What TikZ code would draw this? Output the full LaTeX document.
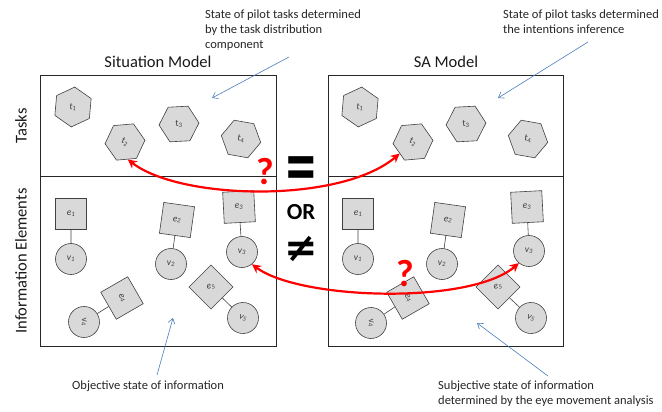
\documentclass[tikz,border=0pt]{standalone}
\usepackage{fontspec}
\setmainfont{Carlito}
\newfontfamily\symfont{DejaVu Sans}
\usetikzlibrary{shapes.geometric}
\usetikzlibrary{arrows.meta}
\definecolor{shapegray}{HTML}{D9D9D9}
\definecolor{edgegray}{HTML}{404040}
\definecolor{pointblue}{HTML}{4A7EBB}
\definecolor{flowred}{HTML}{FF0000}
\tikzset{>=latex}

\begin{document}
\begin{tikzpicture}[x=1pt, y=-1pt,
    task/.style={regular polygon, regular polygon sides=6, minimum size=40pt, inner sep=0pt,
      draw=edgegray, fill=shapegray, semithick, text=edgegray, font=\fontsize{9.5}{10}\selectfont},
    elem/.style={regular polygon, regular polygon sides=4, minimum size=44pt, inner sep=0pt,
      draw=edgegray, fill=shapegray, semithick, text=edgegray, font=\fontsize{9.5}{10}\selectfont\itshape},
    val/.style={circle, minimum size=31pt, inner sep=0pt,
      draw=edgegray, fill=shapegray, semithick, text=edgegray, font=\fontsize{9.5}{10}\selectfont\itshape},
    link/.style={draw=edgegray, semithick},
    panel/.style={draw=black!85, line width=0.9pt},
    flow/.style={draw=flowred, line width=2.2pt,
      {Stealth[length=9pt,width=9pt]}-{Stealth[length=9pt,width=9pt]}},
    note/.style={align=left, inner sep=0pt, anchor=north west, text=black!85,
      font=\fontsize{12.5}{15}\selectfont},
    pointer/.style={draw=pointblue, line width=0.6pt, -{Straight Barb[length=5pt,width=7pt]}},
    title/.style={font=\fontsize{16.5}{19}\selectfont, text=black!90},
    qmark/.style={text=flowred, font=\fontsize{38}{38}\selectfont\bfseries},
    rel/.style={font=\symfont\bfseries\fontsize{40}{40}\selectfont, inner sep=0pt}]

    \useasboundingbox (0,0) rectangle (662,412);

    \draw[panel] (40,75) rectangle (276,346);
    \draw[panel] (40,176) -- (276,176);
    \draw[panel] (328,75) rectangle (563,346);
    \draw[panel] (328,176) -- (563,176);

    \node[title] (sitm) at (158,62) {Situation Model};
    \node[title] (sam) at (446,62) {SA Model};
    \node[title, rotate=90] (tasks) at (21,126) {Tasks};
    \node[title, rotate=90] (infel) at (21,261) {Information Elements};

    \node[task, shape border rotate=30, rotate=-5] (lt1) at (73,107) {t\textsubscript{1}};
    \node[task, shape border rotate=30, rotate=-25] (lt2) at (125,142) {t\textsubscript{2}};
    \node[task, rotate=3] (lt3) at (179,124) {t\textsubscript{3}};
    \node[task, rotate=-10] (lt4) at (241,139) {t\textsubscript{4}};

    \node[task, shape border rotate=30, rotate=-5] (rt1) at (360,107) {t\textsubscript{1}};
    \node[task, shape border rotate=30, rotate=-25] (rt2) at (413,142) {t\textsubscript{2}};
    \node[task, rotate=3] (rt3) at (466,124) {t\textsubscript{3}};
    \node[task, rotate=-10] (rt4) at (528,139) {t\textsubscript{4}};

    \node[elem] (le1) at (71,214) {e\textsubscript{1}};
    \node[val] (lv1) at (71,259) {v\textsubscript{1}};
    \node[elem, rotate=-8] (le2) at (177,220) {e\textsubscript{2}};
    \node[val] (lv2) at (171,264) {v\textsubscript{2}};
    \node[elem, rotate=3] (le3) at (239,207) {e\textsubscript{3}};
    \node[val] (lv3) at (242,252) {v\textsubscript{3}};
    \node[elem, rotate=-60] (le4) at (122,298) {e\textsubscript{4}};
    \node[val, rotate=-80] (lv4) at (84,322) {v\textsubscript{4}};
    \node[elem, shape border rotate=30, rotate=15] (le5) at (211,287) {e\textsubscript{5}};
    \node[val, rotate=-20] (lv5) at (243,318) {v\textsubscript{5}};

    \node[elem] (re1) at (358,214) {e\textsubscript{1}};
    \node[val] (rv1) at (358,259) {v\textsubscript{1}};
    \node[elem, rotate=-8] (re2) at (448,220) {e\textsubscript{2}};
    \node[val] (rv2) at (442,264) {v\textsubscript{2}};
    \node[elem, rotate=3] (re3) at (527,207) {e\textsubscript{3}};
    \node[val] (rv3) at (529,251) {v\textsubscript{3}};
    \node[elem, rotate=-60] (re4) at (408,298) {e\textsubscript{4}};
    \node[val, rotate=-80] (rv4) at (371,323) {v\textsubscript{4}};
    \node[elem, shape border rotate=30, rotate=15] (re5) at (498,287) {e\textsubscript{5}};
    \node[val, rotate=-20] (rv5) at (531,318) {v\textsubscript{5}};

    \foreach \side in {l,r}
      \foreach \i in {1,...,5}
        \draw[link] (\side e\i) -- (\side v\i);

    \node[rel, yscale=1.6] (eq) at (301,172) {=};
    \node[font=\bfseries\fontsize{23}{23}\selectfont] (or) at (301,212) {OR};
    \node[rel] (neq) at (301,249) {≠};

    \draw[flow] (lt2.-56) .. controls (180,200) and (340,204) .. (rt2.-114);
    \draw[flow] (lv3.-51) .. controls (300,300) and (470,305) .. (rv3.-130);
    \node[qmark] (q1) at (265,172) {?};
    \node[qmark] (q2) at (405,274) {?};

    \node[note] (ann1) at (205,10) {State of pilot tasks determined\\by the task distribution\\component};
    \node[note] (ann2) at (503,9.5) {State of pilot tasks determined\\the intentions inference};
    \node[note] (ann3) at (72,381) {Objective state of information};
    \node[note] (ann4) at (438,381) {Subjective state of information\\determined by the eye movement analysis};

    \coordinate (p1a) at (289,57);
    \coordinate (p1b) at (212,98);
    \coordinate (p2a) at (588,42);
    \coordinate (p2b) at (498,98);
    \coordinate (p3a) at (157,375);
    \coordinate (p3b) at (173,318);
    \coordinate (p4a) at (548,376);
    \coordinate (p4b) at (477,323);
    \draw[pointer] (p1a) -- (p1b);
    \draw[pointer] (p2a) -- (p2b);
    \draw[pointer] (p3a) -- (p3b);
    \draw[pointer] (p4a) -- (p4b);
\end{tikzpicture}
\end{document}
